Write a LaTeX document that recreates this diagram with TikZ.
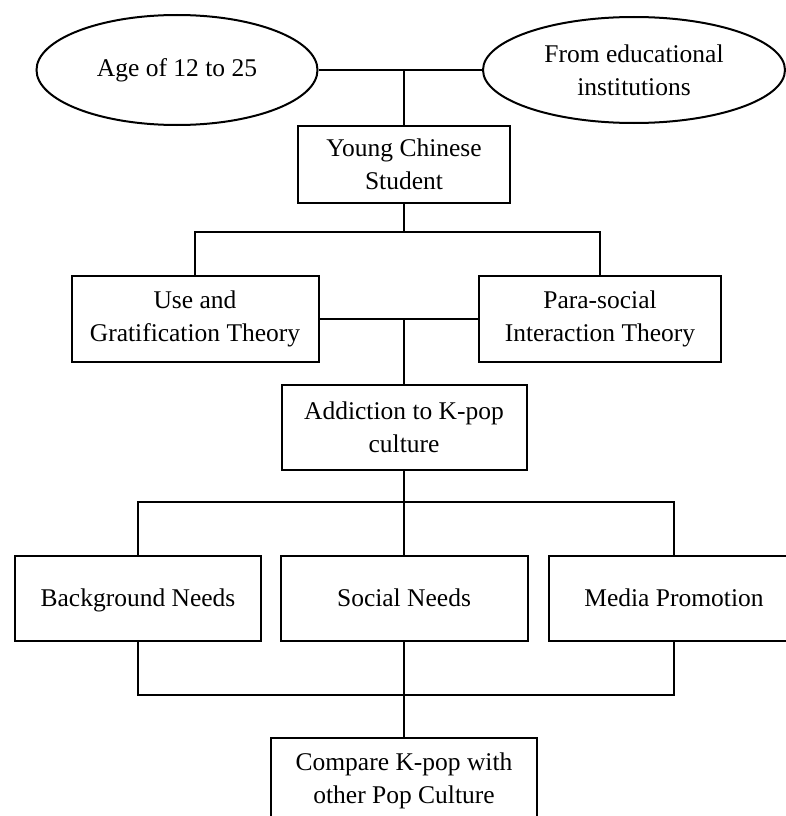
\documentclass[tikz,border=0pt]{standalone}
\usepackage{fontspec}
\setmainfont{Liberation Serif}
\usetikzlibrary{shapes.geometric}

\tikzset{
  box/.style={draw, rectangle, inner sep=0pt, align=center},
  oval/.style={draw, ellipse, inner sep=0pt, align=center},
  rowbox/.style={box, text height=17pt, text depth=0pt},
  txt/.style={font=\fontsize{25.5}{33}\selectfont}
}

\begin{document}
\begin{tikzpicture}[x=1pt, y=-1pt, line width=2pt, every node/.style={txt}]

  \newcommand\SX{404}   % the middle spine
  \newcommand\RH{85pt}  % height of a row box

  \useasboundingbox (0,0) rectangle (786,816);

  %% top: the two ovals and the student
  \node[oval, minimum width=281pt, minimum height=110pt] (age) at (177,70) {Age of 12 to 25};
  \node[oval, minimum width=302pt, minimum height=106pt] (inst) at (634,70) {From educational\\institutions};
  \node[box, minimum width=212pt, minimum height=77pt] (ycs) at (\SX,164.5) {Young Chinese\\Student};

  %% theories
  \node[box, minimum width=247pt, minimum height=86pt] (ugt) at (195,319) {Use and\\Gratification Theory};
  \node[box, minimum width=242pt, minimum height=86pt] (psi) at (600,319) {Para-social\\Interaction Theory};
  \node[box, minimum width=245pt, minimum height=85pt] (add) at (\SX,427.5) {Addiction to K-pop\\culture};

  %% needs
  \node[rowbox, minimum width=246pt, minimum height=\RH] (bg) at (138,598) {Background Needs};
  \node[rowbox, minimum width=247pt, minimum height=\RH] (soc) at (\SX,598) {Social Needs};
  \node[rowbox, minimum width=250pt, minimum height=\RH] (med) at (674,598) {Media Promotion};

  \node[box, minimum width=266pt, minimum height=86pt] (cmp) at (\SX,781) {Compare K-pop with\\other Pop Culture};

  \coordinate (j1) at (\SX,232);
  \coordinate (j2) at (\SX,502);
  \coordinate (j3) at (\SX,695);

  \draw (age.east) -- (inst.west); %% age - inst
  \draw (ycs.north) -- (ycs.north |- age.east); %% ycs - top

  \draw (ycs.south) -- (j1);
  \draw (ugt.north) |- (j1) -| (psi.north); %% ugt - psi

  \draw (ugt.east) -- (psi.west);
  \draw (add.north) -- (add.north |- ugt.east); %% add - theories

  \draw (add.south) -- (j2);
  \draw (bg.north) |- (j2) -| (med.north);
  \draw (soc.north) -- (j2);

  \draw (bg.south) |- (j3) -| (med.south);
  \draw (soc.south) -- (j3) -- (cmp.north); %% needs - cmp

\end{tikzpicture}
\end{document}
